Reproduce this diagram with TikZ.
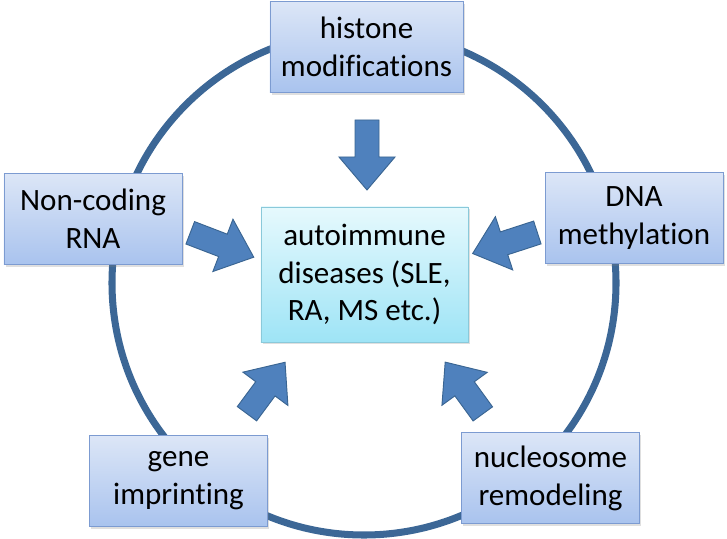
\documentclass[tikz,border=0pt]{standalone}
\usepackage{fontspec}
\setmainfont{Carlito}[Ligatures=NoCommon]
\usetikzlibrary{shadows}

\definecolor{ringblue}{HTML}{3C6796}
\definecolor{arrowfill}{HTML}{4F81BD}
\definecolor{arrowline}{HTML}{3A6592}
\definecolor{boxtop}{HTML}{DCE6F7}
\definecolor{boxbot}{HTML}{A9C3EE}
\definecolor{boxline}{HTML}{7C9BD1}
\definecolor{hubtop}{HTML}{E6F9FD}
\definecolor{hubbot}{HTML}{9EE4F6}
\definecolor{hubline}{HTML}{8AC9DA}

% block arrow: centre, angle, length
\newcommand{\fatarrow}[3]{%
  \draw[fatarrow, shift={(#1)}, rotate=#2]
    (-#3/2,-12) -- (#3/2-33,-12) -- (#3/2-33,-28) -- (#3/2,0)
    -- (#3/2-33,28) -- (#3/2-33,12) -- (-#3/2,12) -- cycle;}

\begin{document}
\begin{tikzpicture}[x=0.03cm, y=-0.03cm,
    factor/.style={draw=boxline, line width=0.8pt, top color=boxtop, bottom color=boxbot,
      minimum width=5.34cm, minimum height=2.72cm, align=center,
      font=\fontsize{26.5}{32.3}\selectfont,
      drop shadow={shadow xshift=1.5pt, shadow yshift=-2pt, opacity=0.25}},
    hub/.style={factor, draw=hubline, top color=hubtop, bottom color=hubbot,
      minimum width=6.21cm, minimum height=4.05cm},
    fatarrow/.style={fill=arrowfill, draw=arrowline, line width=0.8pt, line join=miter}]
    \useasboundingbox (0,0) rectangle (727,539);
    \draw[ringblue, line width=6pt] (364,283) circle (252);

    \node[hub] (disease) at (364.5,274.5) {autoimmune\\diseases (SLE,\\RA, MS etc.)};
    \node[factor, minimum width=5.79cm] (histone) at (366.5,47) {histone\\modifications};
    \node[factor] (ncrna) at (93,219) {Non-coding\\RNA};
    \node[factor] (dnameth) at (634,218) {DNA\\methylation};
    \node[factor] (imprint) at (178.5,481) {gene\\imprinting};
    \node[factor] (remodel) at (550.5,478) {nucleosome\\remodeling};

    \fatarrow{367,155}{-90}{70}
    \fatarrow{222,245}{-21}{68}
    \fatarrow{505,243}{-162}{68}
    \fatarrow{266,388}{53.5}{64}
    \fatarrow{464,388}{126}{64}
\end{tikzpicture}
\end{document}
